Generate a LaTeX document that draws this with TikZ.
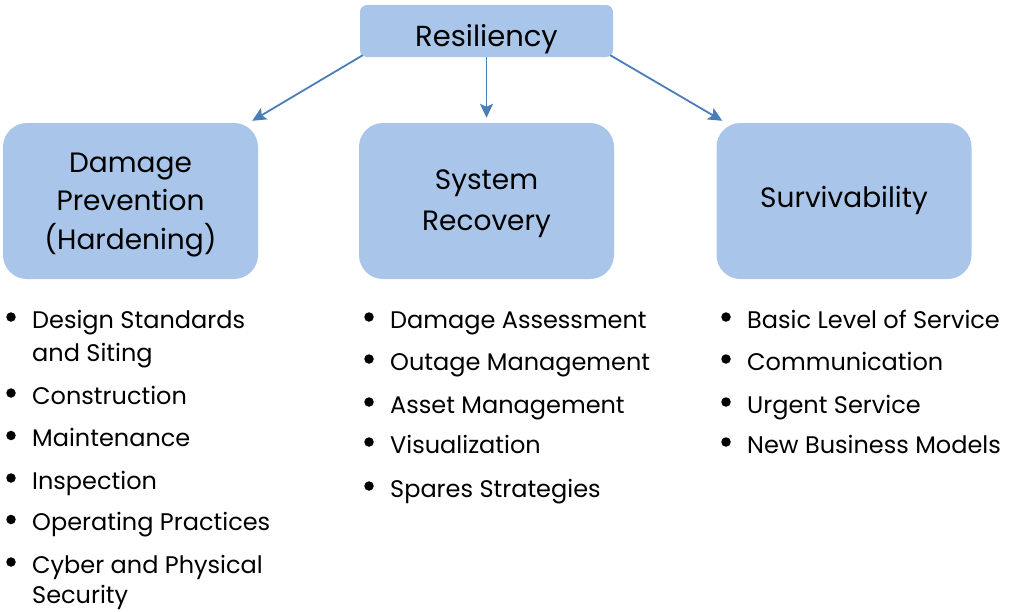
\documentclass[tikz,border=0pt]{standalone}
\usepackage{fontspec}
\setmainfont{Poppins}
\usetikzlibrary{arrows.meta,calc}
\definecolor{boxblue}{RGB}{169,198,234}
\definecolor{arrowblue}{RGB}{74,126,187}
\begin{document}
\begin{tikzpicture}[x=1pt,y=-1pt,
  topbox/.style={fill=boxblue, rounded corners=7pt, minimum width=253pt, minimum height=52pt, inner sep=0pt, text height=30pt, text depth=0pt, font=\fontsize{29}{29}\selectfont},
  catbox/.style={fill=boxblue, rounded corners=24pt, minimum width=255pt, minimum height=156pt, inner sep=0pt},
  boxtext/.style={inner sep=0pt, align=center, font=\fontsize{28}{38.5}\selectfont},
  arr/.style={draw=arrowblue, line width=1.8pt, -{Stealth[length=14pt,width=13pt,inset=3pt]}},
  dot/.style={circle, fill=black, inner sep=0pt, minimum size=9.5pt},
  item/.style={anchor=base west, inner sep=0pt, font=\fontsize{24}{24}\selectfont}]
\useasboundingbox (0,0) rectangle (1014,611);

% top box and the three categories
\node[topbox] (res) at (486.5,31) {Resiliency};
\node[catbox] (b1) at (130.5,201) {};
\node[catbox] (b2) at (486.5,201) {};
\node[catbox] (b3) at (844,201) {};
\node[boxtext] (b1t) at ($(b1.center)+(0,4)$) {Damage\\Prevention\\(Hardening)};
\node[boxtext, font=\fontsize{28}{41}\selectfont] (b2t) at ($(b2.center)+(0,2.5)$) {System\\Recovery};
\node[boxtext] (b3t) at ($(b3.center)+(0,-1)$) {Survivability};

% connectors
\draw[arr] ($(res.south west)+(3,-2)$) -- ($(b1.north east)+(-6,-2)$);
\draw[arr, shorten >=5pt] (res.south) -- (b2.north);
\draw[arr] ($(res.south east)+(-3,-2)$) -- ($(b3.north west)+(6,-2)$);

% damage prevention list
\node[dot] (d1) at (11,317) {};
\node[item] (t1) at (32,328) {Design Standards};
\node[item] (t1b) at (32,361) {and Siting};
\node[dot] (d2) at (11,393) {};
\node[item] (t2) at (32,404) {Construction};
\node[dot] (d3) at (11,435.5) {};
\node[item] (t3) at (32,446.5) {Maintenance};
\node[dot] (d4) at (11,478) {};
\node[item] (t4) at (32,489) {Inspection};
\node[dot] (d5) at (11,519.5) {};
\node[item] (t5) at (32,530.5) {Operating Practices};
\node[dot] (d6) at (11,562) {};
\node[item] (t6) at (32,573) {Cyber and Physical};
\node[item] (t6b) at (32,603) {Security};

% system recovery list
\node[dot] (r1) at (369,317) {};
\node[item] (s1) at (390,328) {Damage Assessment};
\node[dot] (r2) at (369,359) {};
\node[item] (s2) at (390,370) {Outage Management};
\node[dot] (r3) at (369,402) {};
\node[item] (s3) at (390,413) {Asset Management};
\node[dot] (r4) at (369,442) {};
\node[item] (s4) at (390,453) {Visualization};
\node[dot] (r5) at (369,486) {};
\node[item] (s5) at (390,497) {Spares Strategies};

% survivability list
\node[dot] (v1) at (726,317) {};
\node[item] (u1) at (747,328) {Basic Level of Service};
\node[dot] (v2) at (726,359) {};
\node[item] (u2) at (747,370) {Communication};
\node[dot] (v3) at (726,402) {};
\node[item] (u3) at (747,413) {Urgent Service};
\node[dot] (v4) at (726,442) {};
\node[item] (u4) at (747,453) {New Business Models};
\end{tikzpicture}
\end{document}
